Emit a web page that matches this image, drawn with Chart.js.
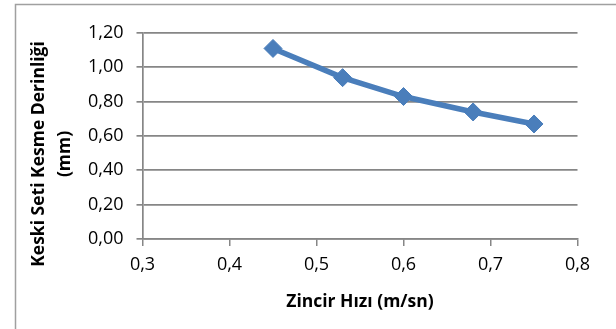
<!DOCTYPE html>
<html>
<head>
<meta charset="utf-8">
<script src="https://cdn.jsdelivr.net/npm/chart.js@4/dist/chart.umd.min.js"></script>
<style>
  html, body { margin: 0; padding: 0; background: #fff; }
  #wrap { width: 616px; height: 329px; position: relative; }
</style>
</head>
<body>
<div id="wrap"><canvas id="c" width="616" height="329"></canvas></div>
<script>
// Chain speed (m/s) and cutter set cutting depth (mm)
const zincirHizi = [0.45, 0.53, 0.60, 0.68, 0.75];
const kesmeDerinligi = [1.11, 0.94, 0.83, 0.74, 0.67];

const xTickLabels = ['0,3', '0,4', '0,5', '0,6', '0,7', '0,8'];
const yTickLabels = ['0,00', '0,20', '0,40', '0,60', '0,80', '1,00', '1,20'];

const xTitle = 'Zincir Hızı (m/sn)';
const yTitleLines = ['Keski Seti Kesme Derinliği', '(mm)'];

const FONT = '"Open Sans", "Noto Sans", sans-serif';
const GRID = '#868686';
const BLUE = '#4a7ebb';

// Outer frame and the rotated two-line value-axis title
const framePlugin = {
  id: 'frameAndTitle',
  beforeDraw(chart) {
    const ctx = chart.ctx;
    ctx.save();
    ctx.fillStyle = '#fff';
    ctx.fillRect(0, 0, chart.width, chart.height);
    ctx.strokeStyle = '#a0a0a0';
    ctx.lineWidth = 1.5;
    ctx.strokeRect(15.5, 4.5, chart.width + 20, chart.height + 20);
    ctx.restore();
  },
  afterDraw(chart) {
    const ctx = chart.ctx;
    ctx.save();
    ctx.fillStyle = '#000';
    ctx.font = 'bold 17.5px ' + FONT;
    ctx.textAlign = 'center';
    ctx.textBaseline = 'middle';
    ctx.translate(52, 154);
    ctx.rotate(-Math.PI / 2);
    ctx.fillText(yTitleLines[0], 0, -13);
    ctx.fillText(yTitleLines[1], 0, 13);
    ctx.restore();
  }
};

new Chart(document.getElementById('c'), {
  type: 'scatter',
  data: {
    datasets: [{
      data: zincirHizi.map((x, i) => ({ x, y: kesmeDerinligi[i] })),
      showLine: true,
      borderColor: BLUE,
      backgroundColor: BLUE,
      borderWidth: 5.5,
      tension: 0,
      pointStyle: 'rectRot',
      pointRadius: 9,
      pointHoverRadius: 9,
      pointBorderWidth: 1,
      pointBorderColor: BLUE
    }]
  },
  options: {
    responsive: false,
    animation: false,
    events: [],
    layout: { padding: { left: 0, top: 33, right: 38.5, bottom: 0 } },
    plugins: { legend: { display: false }, tooltip: { enabled: false } },
    scales: {
      x: {
        type: 'linear',
        min: 0.3, max: 0.8,
        ticks: {
          stepSize: 0.1,
          color: '#000',
          font: { family: FONT, size: 18 },
          padding: 8,
          callback: (v, i) => xTickLabels[i]
        },
        grid: { drawOnChartArea: false, drawTicks: true, tickLength: 7, color: GRID, lineWidth: 1.5 },
        border: { display: true, color: GRID, width: 1.5 },
        title: {
          display: true,
          text: xTitle,
          color: '#000',
          font: { family: FONT, size: 17.5, weight: 'bold' },
          padding: { top: 0, bottom: 16 }
        },
        afterFit(scale) { scale.height = 90; }
      },
      y: {
        type: 'linear',
        min: 0, max: 1.2,
        ticks: {
          stepSize: 0.2,
          color: '#000',
          font: { family: FONT, size: 18 },
          padding: 13,
          callback: (v, i) => yTickLabels[i]
        },
        grid: { drawTicks: true, tickLength: 6, color: GRID, lineWidth: 1.7 },
        border: { display: true, color: GRID, width: 1.7 },
        afterFit(scale) { scale.width = 142.5; }
      }
    }
  },
  plugins: [framePlugin]
});
</script>
</body>
</html>
